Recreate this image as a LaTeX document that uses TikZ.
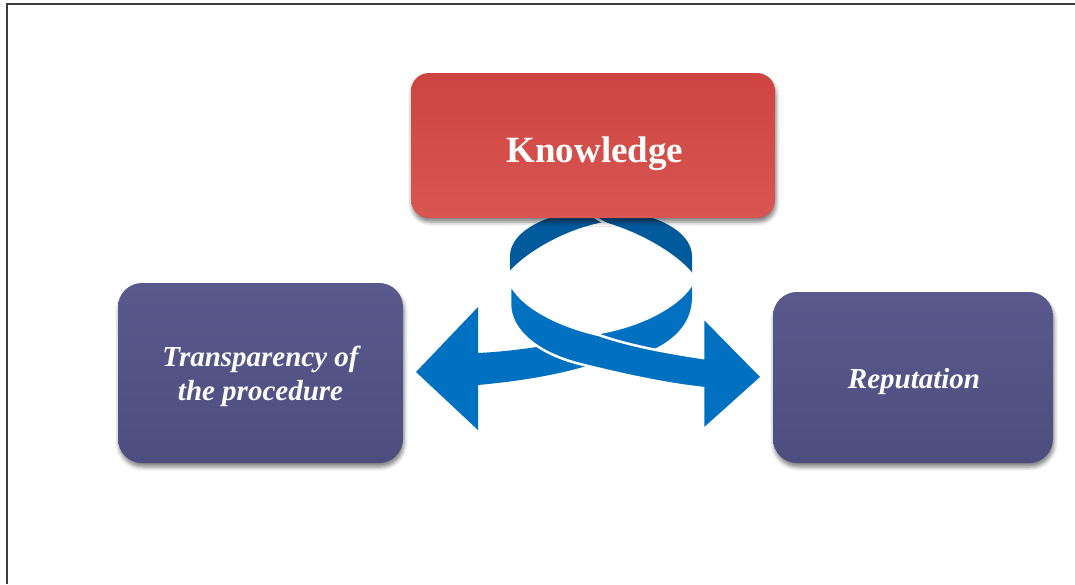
\documentclass[tikz,border=0pt]{standalone}
\usepackage{fontspec}
\setmainfont{Liberation Serif}
\usetikzlibrary{shadows.blur}

\definecolor{knowtop}{RGB}{206,68,64}
\definecolor{knowmid}{RGB}{193,58,54}
\definecolor{knowbot}{RGB}{216,86,82}
\definecolor{boxblue}{RGB}{82,82,136}
\definecolor{ribbon}{RGB}{0,112,192}
\definecolor{ribbondark}{RGB}{0,90,156}
\definecolor{framegray}{RGB}{60,60,60}

\begin{document}
\begin{tikzpicture}[x=1pt, y=-1pt,
  bevel/.style={rounded corners=#1, inner sep=0pt,
    blur shadow={shadow xshift=1pt, shadow yshift=-4pt,
      shadow blur radius=4pt, shadow opacity=50}},
  redbox/.style={bevel=18pt, minimum width=364pt, minimum height=145pt,
    top color=knowtop, middle color=knowmid, bottom color=knowbot},
  bluebox/.style={bevel=24pt, top color=boxblue!96!white,
    middle color=boxblue, bottom color=boxblue!94!black},
  lbl/.style={text=white, font=\bfseries\itshape\fontsize{29}{34}\selectfont,
    align=center}]
  \useasboundingbox (0,0) rectangle (1075,584);
  % page frame
  \coordinate (F1) at (7,584);
  \coordinate (F2) at (7,4);
  \coordinate (F3) at (1075,4);
  \draw[framegray, line width=1.6pt] (F1) -- (F2) -- (F3);

  % left arrow, runs under the front ribbon
  \fill[ribbon] (478,353) .. controls (500,352) and (525,349) .. (550,345)
    -- (575,340) -- (590,365) .. controls (550,377) and (510,382) .. (478,385)
    -- (478,430) -- (416,372) -- (478,307) -- cycle;
  % right part of the loop, behind the front ribbon
  \fill[ribbon] (692,283) -- (692,297) .. controls (692,320) and (678,338) .. (652,350)
    -- (600,340) -- (600,288) -- cycle;
  % back of the loop
  \fill[ribbondark] (510,276) -- (510,256) .. controls (510,230) and (551,210) .. (601,210)
    .. controls (651,210) and (692,230) .. (692,256) -- (692,278) -- cycle;
  % inside of the loop
  \fill[white] (508,273) .. controls (524,254) and (562,230) .. (604,222)
    .. controls (640,232) and (678,254) .. (694,275) -- (694,283)
    .. controls (682,305) and (645,326) .. (600,334)
    .. controls (555,325) and (520,305) .. (508,283) -- cycle;
  \draw[white, line width=2.5pt] (586,212) -- (608,225);
  % front ribbon with the right arrow
  \filldraw[fill=ribbon, draw=white, line width=2.5pt]
    (510,283) -- (510,304) .. controls (510,332) and (540,354) .. (580,364)
    .. controls (620,374) and (665,384) .. (703,388) -- (703,430) -- (762,377)
    -- (703,317) -- (703,358) .. controls (670,353) and (630,346) .. (599,335)
    .. controls (555,325) and (520,305) .. (510,283) -- cycle;

  % boxes
  \node[redbox] (know) at (593,145.5) {};
  \node[bluebox, minimum width=285pt, minimum height=180pt] (transp) at (260.5,373) {};
  \node[bluebox, minimum width=280pt, minimum height=171pt] (reput) at (913,377.5) {};
  \node[text=white, font=\bfseries\fontsize{37}{44}\selectfont, anchor=base]
    (knowlbl) at (595,162) {Knowledge};
  \node[lbl] (transplbl) at (260.5,376.5) {Transparency of\\the procedure};
  \node[lbl, anchor=base] (reputlbl) at (914,388) {Reputation};
\end{tikzpicture}
\end{document}
